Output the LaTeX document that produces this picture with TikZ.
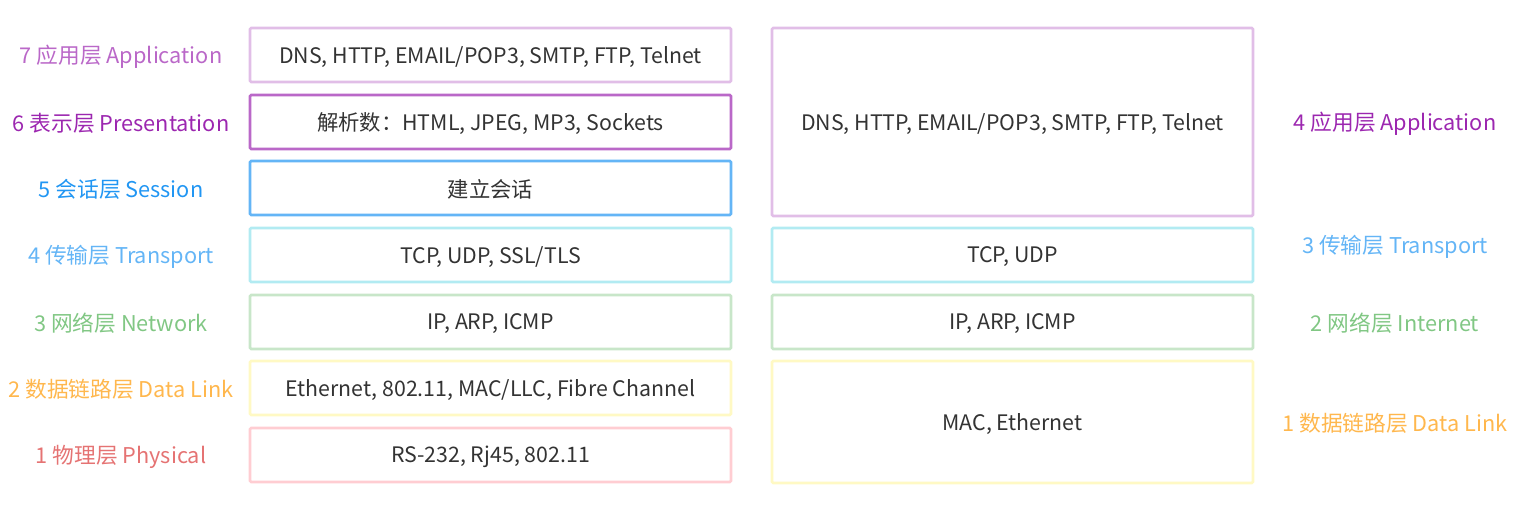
\documentclass[tikz,border=0pt]{standalone}
\usepackage{fontspec}
\setmainfont{Noto Sans CJK SC}
\definecolor{txt}{HTML}{333333}
\definecolor{cA}{HTML}{BA68C8}
\definecolor{cAb}{HTML}{E1BEE7}
\definecolor{cP}{HTML}{9C27B0}
\definecolor{cS}{HTML}{2196F3}
\definecolor{cSb}{HTML}{64B5F6}
\definecolor{cT}{HTML}{64B5F6}
\definecolor{cTb}{HTML}{B2EBF2}
\definecolor{cN}{HTML}{81C784}
\definecolor{cNb}{HTML}{C8E6C9}
\definecolor{cD}{HTML}{FFB74D}
\definecolor{cDb}{HTML}{FFF9C4}
\definecolor{cPh}{HTML}{E57373}
\definecolor{cPhb}{HTML}{FFCDD2}
\begin{document}
\begin{tikzpicture}[x=0.75pt,y=-0.75pt,
  layer/.style={draw=#1,line width=2pt,fill=white,rounded corners=1pt,text=txt,font=\fontsize{16}{19}\selectfont},
  txtonly/.style={text=txt,font=\fontsize{16}{19}\selectfont,inner sep=0pt,yshift=-1.2pt},
  lbl/.style={text=#1,font=\fontsize{16.3}{19}\selectfont,inner sep=0pt,yshift=-1.2pt}]
\useasboundingbox (0,0) rectangle (1514,505);
% left stack
\node[layer=cAb,minimum width=360.75pt,minimum height=40.5pt] (l7) at (490.5,55) {};
\node[layer=cA,minimum width=360.75pt,minimum height=40.5pt] (l6) at (490.5,122) {};
\node[layer=cSb,minimum width=360.75pt,minimum height=40.5pt] (l5) at (490.5,188) {};
\node[layer=cTb,minimum width=360.75pt,minimum height=40.5pt] (l4) at (490.5,255) {};
\node[layer=cNb,minimum width=360.75pt,minimum height=40.5pt] (l3) at (490.5,322) {};
\node[layer=cDb,minimum width=360.75pt,minimum height=40.5pt] (l2) at (490.5,388) {};
\node[layer=cPhb,minimum width=360.75pt,minimum height=40.5pt] (l1) at (490.5,455) {};
\node[txtonly] (t7) at (l7) {DNS, HTTP, EMAIL/POP3, SMTP, FTP, Telnet};
\node[txtonly] (t6) at (l6) {解析数：HTML, JPEG, MP3, Sockets};
\node[txtonly] (t5) at (l5) {建立会话};
\node[txtonly] (t4) at (l4) {TCP, UDP, SSL/TLS};
\node[txtonly] (t3) at (l3) {IP, ARP, ICMP};
\node[txtonly] (t2) at (l2) {Ethernet, 802.11, MAC/LLC, Fibre Channel};
\node[txtonly] (t1) at (l1) {RS-232, Rj45, 802.11};
% left labels
\node[lbl=cA] (n7) at (121,55) {7 应用层 Application};
\node[lbl=cP] (n6) at (121,122) {6 表示层 Presentation};
\node[lbl=cS] (n5) at (121,188) {5 会话层 Session};
\node[lbl=cT] (n4) at (121,255) {4 传输层 Transport};
\node[lbl=cN] (n3) at (121,322) {3 网络层 Network};
\node[lbl=cD] (n2) at (121,388) {2 数据链路层 Data Link};
\node[lbl=cPh] (n1) at (121,455) {1 物理层 Physical};
% right stack
\node[layer=cAb,minimum width=360.75pt,minimum height=141pt] (r4) at (1012.5,122) {};
\node[layer=cTb,minimum width=360.75pt,minimum height=40.5pt] (r3) at (1012.5,255) {};
\node[layer=cNb,minimum width=360.75pt,minimum height=40.5pt] (r2) at (1012.5,322) {};
\node[layer=cDb,minimum width=360.75pt,minimum height=91.5pt] (r1) at (1012.5,422) {};
\node[txtonly] (s4) at (r4) {DNS, HTTP, EMAIL/POP3, SMTP, FTP, Telnet};
\node[txtonly] (s3) at (r3) {TCP, UDP};
\node[txtonly] (s2) at (r2) {IP, ARP, ICMP};
\node[txtonly] (s1) at (r1) {MAC, Ethernet};
% right labels
\node[lbl=cP] (m4) at (1395,122) {4 应用层 Application};
\node[lbl=cT] (m3) at (1395,245) {3 传输层 Transport};
\node[lbl=cN] (m2) at (1395,322) {2 网络层 Internet};
\node[lbl=cD] (m1) at (1395,422) {1 数据链路层 Data Link};
\end{tikzpicture}
\end{document}
